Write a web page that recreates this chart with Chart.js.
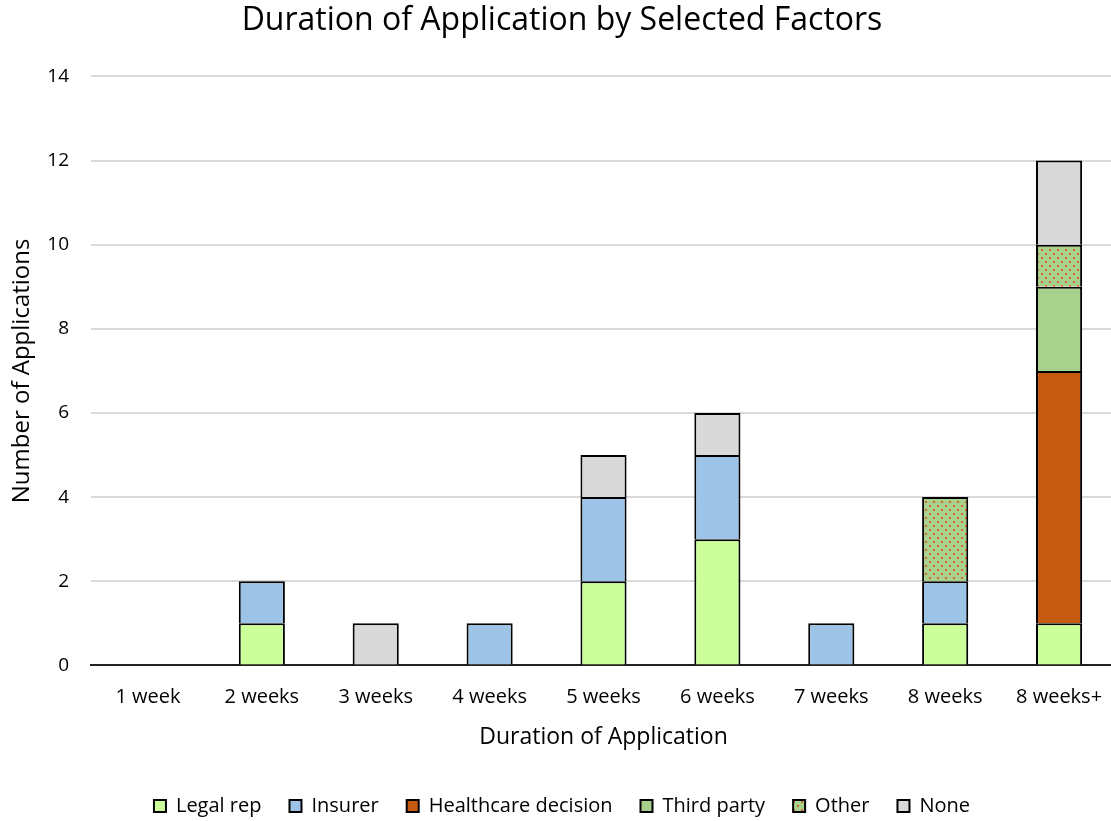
<!DOCTYPE html>
<html>
<head>
<meta charset="utf-8">
<script src="https://cdn.jsdelivr.net/npm/chart.js@4/dist/chart.umd.min.js"></script>
<style>
  html, body { margin: 0; padding: 0; background: #fff; overflow: hidden; }
  .wrap { width: 1116px; height: 821px; }
</style>
</head>
<body>
<div class="wrap"><canvas id="c"></canvas></div>
<script>
const labels = ['1 week','2 weeks','3 weeks','4 weeks','5 weeks','6 weeks','7 weeks','8 weeks','8 weeks+'];
const legalRep   = [null,1,null,null,2,3,null,1,1];
const insurer    = [null,1,null,1,2,2,1,1,null];
const healthcare = [null,null,null,null,null,null,null,null,6];
const thirdParty = [null,null,null,null,null,null,null,null,2];
const other      = [null,null,null,null,null,null,null,2,1];
const none       = [null,null,1,null,1,1,null,null,2];

// staggered dot fill for "Other"
function dotPattern() {
  const p = document.createElement('canvas'); p.width = 8; p.height = 8;
  const g = p.getContext('2d');
  g.fillStyle = '#A9D18E'; g.fillRect(0,0,8,8);
  g.fillStyle = '#D2692A';
  g.fillRect(1,1,2,2); g.fillRect(5,5,2,2);
  return document.getElementById('c').getContext('2d').createPattern(p,'repeat');
}

const font = "'Open Sans', 'Liberation Sans', sans-serif";
const ds = (label, data, bg) => ({ label, data, backgroundColor: bg, borderColor: '#000', borderWidth: 2, barPercentage: 0.405, categoryPercentage: 1 });

new Chart(document.getElementById('c'), {
  type: 'bar',
  data: { labels, datasets: [
    ds('Legal rep', legalRep, '#CCFF99'),
    ds('Insurer', insurer, '#9DC3E6'),
    ds('Healthcare decision', healthcare, '#C55A11'),
    ds('Third party', thirdParty, '#A9D18E'),
    ds('Other', other, dotPattern()),
    ds('None', none, '#D9D9D9'),
  ]},
  options: {
    responsive: true, maintainAspectRatio: false, animation: false,
    layout: { padding: { left: 8, right: 0, top: 0, bottom: -5 } },
    plugins: {
      title: { display: true, text: 'Duration of Application by Selected Factors', color: '#000', font: { family: font, size: 32, weight: 'normal' }, padding: { top: 2, bottom: 36 } },
      legend: { position: 'bottom', labels: { color: '#000', font: { family: font, size: 20 }, boxWidth: 12, boxHeight: 12, padding: 28 }, onClick: null },
      tooltip: { enabled: false }
    },
    scales: {
      x: { stacked: true, grid: { display: false }, border: { color: '#222', width: 2 },
           ticks: { color: '#000', font: { family: font, size: 20 }, padding: 12 },
           title: { display: true, text: 'Duration of Application', color: '#000', font: { family: font, size: 23 }, padding: { top: 2, bottom: 17 } } },
      y: { stacked: true, min: 0, max: 14, grid: { color: '#D9D9D9', lineWidth: 2, drawTicks: false }, border: { display: false },
           ticks: { stepSize: 2, color: '#000', font: { family: font, size: 19 }, padding: 22 },
           title: { display: true, text: 'Number of Applications', color: '#000', font: { family: font, size: 24 }, padding: { top: 0, bottom: 12 } },
           afterFit: s => { s.width = 83; } }
    }
  }
});
</script>
</body>
</html>
